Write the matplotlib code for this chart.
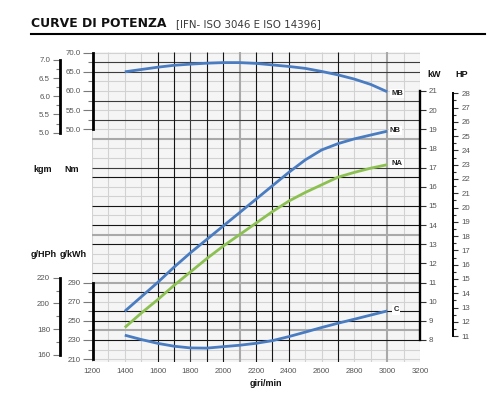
import matplotlib
matplotlib.use('Agg')
import matplotlib.pyplot as plt
from matplotlib.lines import Line2D
from matplotlib.ticker import FormatStrFormatter
import numpy as np

plt.rcParams['font.family'] = ['Liberation Sans', 'DejaVu Sans']

# ---------------- data ----------------
rpm = [1400, 1500, 1600, 1700, 1800, 1900, 2000, 2100, 2200, 2300, 2400,
       2500, 2600, 2700, 2800, 2900, 3000]
MB_Nm = [65.0, 65.6, 66.2, 66.7, 67.0, 67.25, 67.4, 67.4, 67.2, 66.8, 66.4,
         65.9, 65.1, 64.2, 63.1, 61.7, 59.8]
NB_kW = [9.5, 10.25, 11.0, 11.8, 12.55, 13.25, 13.95, 14.65, 15.35, 16.05, 16.75,
         17.4, 17.92, 18.25, 18.5, 18.7, 18.9]
NA_kW = [8.65, 9.4, 10.1, 10.85, 11.55, 12.25, 12.9, 13.5, 14.1, 14.7, 15.25,
         15.7, 16.1, 16.5, 16.75, 16.97, 17.15]
C_gkWh = [235.0, 230.5, 226.5, 223.5, 221.7, 221.5, 223.0, 224.5, 226.5, 229.3, 233.5,
          238.2, 243.0, 247.5, 251.7, 256.0, 260.3]

x_ticks = [1200, 1400, 1600, 1800, 2000, 2200, 2400, 2600, 2800, 3000, 3200]
kW_ticks = list(range(8, 22))
HP_ticks = list(range(11, 29))
Nm_ticks = [50.0, 55.0, 60.0, 65.0, 70.0]
kgm_ticks = [5.0, 5.5, 6.0, 6.5, 7.0]
gkWh_ticks = [210, 230, 250, 270, 290]
gHPh_ticks = [160, 180, 200, 220]

# grid layout (shade codes: L light, G gray thick, D dark, B black)
grid_rpm = list(range(1200, 3300, 100))
grid_rpm_shade = "LLLLBBDBBGBBBLLBLLGLL"
grid_kw = list(np.arange(7.0, 23.01, 0.5))
grid_kw_shade = "LLBGBBLBGBLLBGBLBLLBDLLGLDLDLLDDL"

SHADE = {'L': ('#d2d2d2', 0.8), 'G': ('#a9a9a9', 1.5),
         'D': ('#3c3c3c', 0.8), 'B': ('#151515', 0.8)}

BLUE = '#4a7cc2'
GREEN = '#8cc152'

# ---------------- unit relations (base axis = kW) ----------------
KW_LIM = (6.85, 23.05)
def nm_of_kw(k): return (k - 9.0) * 5.0
def g_of_kw(k): return 210.0 + (k - 7.0) * 20.0
def kgm_of_kw(k): return 5.0 + (k - 18.823) * (2.0 / 3.795)
def hp_of_kw(k): return k / 0.7457
def ghph_of_gkwh(g): return g * 0.7457

# ---------------- figure ----------------
W, H = 488, 397
fig = plt.figure(figsize=(W / 100, H / 100), dpi=100)
def fx(px): return px / W
def fy(py): return 1 - py / H

AX_L, AX_R, AX_T, AX_B = 92, 420, 51.7, 362
ax = fig.add_axes([fx(AX_L), fy(AX_B), (AX_R - AX_L) / W, (AX_B - AX_T) / H])
ax.set_xlim(1200, 3200)
ax.set_ylim(*KW_LIM)
ax.set_facecolor('#f5f5f5')

# grid
order = ['L', 'G', 'D', 'B']
for code in order:
    c, lw = SHADE[code]
    xs = [r for r, s in zip(grid_rpm, grid_rpm_shade) if s == code]
    ys = [k for k, s in zip(grid_kw, grid_kw_shade) if s == code]
    if ys:
        ax.hlines(ys, 1200, 3200, colors=c, linewidth=lw, zorder=1)
    if xs:
        ax.vlines(xs, KW_LIM[0], KW_LIM[1], colors=c, linewidth=lw, zorder=1)

LABEL_KW = dict(labelsize=5.7, labelcolor='#555555')

def side_axis(lim, side, pos, bounds, majors, minor_step, fmt,
              maj_len, min_len, pad, lw, tick_color='#7a7a7a'):
    a = ax.twinx()
    a.set_ylim(*lim)
    for s in a.spines.values():
        s.set_visible(False)
    sp = a.spines[side]
    sp.set_visible(True)
    sp.set_position(('axes', pos))
    sp.set_bounds(*bounds)
    sp.set_linewidth(lw)
    sp.set_color('black')
    a.yaxis.set_ticks_position(side)
    a.set_yticks(majors)
    a.set_yticks(np.arange(bounds[0], bounds[1] + 1e-9, minor_step), minor=True)
    a.yaxis.set_major_formatter(FormatStrFormatter(fmt))
    a.tick_params(axis='y', which='major', direction='out', length=maj_len,
                  width=0.8, color=tick_color, pad=pad, **LABEL_KW)
    a.tick_params(axis='y', which='minor', direction='out', length=min_len,
                  width=0.8, color=tick_color)
    return a

left_out = (60 - AX_L) / (AX_R - AX_L)
hp_pos = (452.7 - AX_L) / (AX_R - AX_L)

g_lim = (g_of_kw(KW_LIM[0]), g_of_kw(KW_LIM[1]))

axNm = side_axis((nm_of_kw(KW_LIM[0]), nm_of_kw(KW_LIM[1])), 'left', 0.002,
                 (50, 70), Nm_ticks, 2.5, '%.1f', 7.2, 3.6, 1.3, 2.0)
axKgm = side_axis((kgm_of_kw(KW_LIM[0]), kgm_of_kw(KW_LIM[1])), 'left', left_out,
                  (5.0, 7.0), kgm_ticks, 0.25, '%.1f', 5.0, 2.9, 2.2, 2.0)
axG = side_axis(g_lim, 'left', 0.002, (210, 290), gkWh_ticks, 10, '%d',
                7.2, 3.6, 1.3, 2.0)
axGH = side_axis((ghph_of_gkwh(g_lim[0]), ghph_of_gkwh(g_lim[1])), 'left', left_out,
                 (160, 220), gHPh_ticks, 10, '%d', 5.0, 2.9, 2.2, 2.0)
axHP = side_axis((hp_of_kw(KW_LIM[0]), hp_of_kw(KW_LIM[1])), 'right', hp_pos,
                 (11, 28), HP_ticks, 0.5, '%d', 3.3, 2.0, 3.2, 1.4, tick_color='#333333')

# main axis: kW on the right
for s in ax.spines.values():
    s.set_visible(False)
ax.spines['right'].set_visible(True)
ax.spines['right'].set_bounds(8, 21)
ax.spines['right'].set_linewidth(1.7)
ax.yaxis.set_ticks_position('right')
ax.set_yticks(kW_ticks)
ax.tick_params(axis='y', direction='out', length=4.3, width=0.8, color='#333333',
               pad=2.0, **LABEL_KW)
ax.set_xticks(x_ticks)
ax.tick_params(axis='x', length=0, pad=4.5, **LABEL_KW)

# curves
LW = 2.0
axNm.plot(rpm, MB_Nm, color=BLUE, lw=LW, solid_capstyle='butt', zorder=5)
ax.plot(rpm, NB_kW, color=BLUE, lw=LW, solid_capstyle='butt', zorder=5)
ax.plot(rpm, NA_kW, color=GREEN, lw=LW, solid_capstyle='butt', zorder=5)
axG.plot(rpm, C_gkWh, color=BLUE, lw=LW, solid_capstyle='butt', zorder=5)

lab = dict(textcoords='offset points', ha='left', va='center', fontsize=5.5,
           fontweight='bold', color='#222222',
           bbox=dict(boxstyle='square,pad=0.15', fc='white', ec='none'))
axNm.annotate('MB', xy=(rpm[-1], MB_Nm[-1]), xytext=(3.0, -1.2), **lab)
ax.annotate('NB', xy=(rpm[-1], NB_kW[-1]), xytext=(1.8, 0.5), **lab)
ax.annotate('NA', xy=(rpm[-1], NA_kW[-1]), xytext=(3.0, 1.0), **lab)
axG.annotate('C', xy=(rpm[-1], C_gkWh[-1]), xytext=(4.5, 0.7), **lab)

# texts
fig.text(fx(31), fy(26.7), 'CURVE DI POTENZA', fontsize=8.9, fontweight='bold',
         family=['DejaVu Sans'], color='#111111', va='baseline', ha='left')
fig.text(fx(176), fy(26.7), '[IFN- ISO 3046 E ISO 14396]', fontsize=7.4,
         family=['DejaVu Sans'], color='#3a3a3a', va='baseline', ha='left')
fig.add_artist(Line2D([fx(31), fx(485)], [fy(34.3), fy(34.3)], color='black', lw=1.5))

bold = dict(fontsize=6.5, fontweight='bold', color='#111111', va='center')
fig.text(fx(33), fy(170), 'kgm', ha='left', **bold)
fig.text(fx(64), fy(170), 'Nm', ha='left', **bold)
fig.text(fx(57), fy(254.3), 'g/HPh', ha='right', **bold)
fig.text(fx(60), fy(254.3), 'g/kWh', ha='left', **bold)
fig.text(fx(434.5), fy(74.5), 'kW', ha='center', **bold)
fig.text(fx(461.5), fy(74.5), 'HP', ha='center', **bold)
fig.text(fx(266), fy(383.7), 'giri/min', ha='center', **bold)

fig.savefig('out.png', dpi=100)
